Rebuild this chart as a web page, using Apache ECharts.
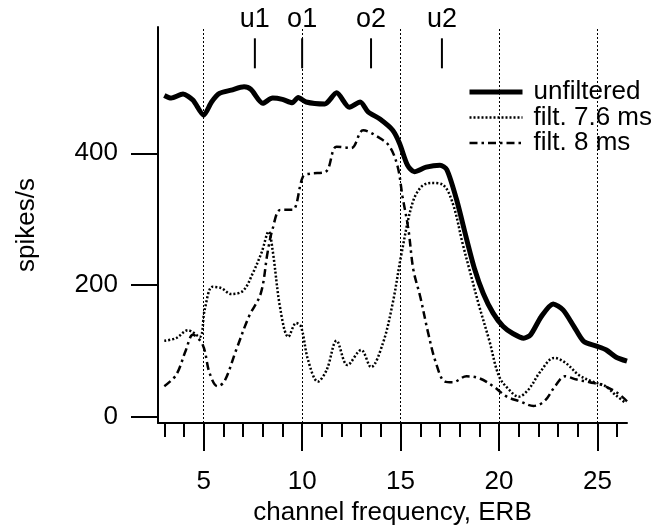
<!DOCTYPE html>
<html>
<head>
<meta charset="utf-8">
<script src="https://cdn.jsdelivr.net/npm/echarts@6/dist/echarts.min.js"></script>
<style>
  html, body { margin: 0; padding: 0; background: #fff; }
  #chart { width: 652px; height: 529px; }
</style>
</head>
<body>
<div id="chart"></div>
<script>
// values
const unfilteredX = [3.0, 3.35, 3.95, 4.45, 5.0, 5.4, 5.8, 6.4, 7.05, 7.4, 8.0, 8.5, 9.0, 9.5, 9.8, 10.2, 11.15, 11.75, 12.4, 12.95, 13.35, 13.95, 14.6, 14.95, 15.35, 15.7, 16.3, 17.0, 17.35, 17.85, 18.35, 18.75, 19.2, 19.7, 20.2, 20.7, 21.25, 21.6, 22.15, 22.75, 23.25, 23.8, 24.3, 24.95, 25.45, 25.95, 26.5];
const unfilteredY = [488, 484, 490, 481, 458, 478, 491, 496, 501, 497, 476, 484, 482, 477, 485, 478, 475, 492, 470, 478, 463, 452, 435, 415, 382, 372, 379, 382, 375, 329, 270, 225, 187, 157, 137, 126, 119, 124, 152, 171, 162, 137, 114, 107, 101, 90, 84];

const filt76X = [3.0, 3.6, 4.2, 4.8, 5.05, 5.45, 5.9, 6.4, 7.0, 7.5, 7.95, 8.3, 8.5, 8.9, 9.3, 9.7, 9.95, 10.3, 10.8, 11.25, 11.75, 12.3, 13.0, 13.5, 14.1, 14.6, 15.05, 15.6, 16.05, 16.55, 17.15, 17.65, 18.15, 18.5, 19.0, 19.5, 20.0, 20.5, 21.0, 21.5, 22.1, 22.8, 23.4, 24.05, 24.75, 25.4, 25.9, 26.45];
const filt76Y = [115, 119, 131, 121, 162, 197, 195, 186, 191, 218, 250, 281, 253, 162, 121, 142, 136, 86, 53, 71, 115, 78, 101, 75, 111, 172, 248, 324, 349, 355, 352, 324, 263, 223, 167, 116, 61, 41, 30, 41, 68, 89, 81, 63, 53, 46, 33, 20];

const filt8X = [3.0, 3.6, 4.1, 4.45, 4.95, 5.3, 5.7, 6.05, 6.65, 7.3, 7.9, 8.25, 8.5, 8.9, 9.5, 10.05, 10.4, 11.2, 11.75, 12.5, 13.1, 13.95, 14.45, 14.85, 15.1, 15.4, 15.65, 16.0, 16.4, 16.8, 17.25, 17.65, 18.35, 19.0, 19.7, 20.4, 21.05, 21.75, 22.3, 22.85, 23.35, 23.95, 24.6, 25.3, 26.0, 26.5];
const filt8Y = [46, 63, 101, 124, 109, 66, 46, 53, 101, 152, 187, 250, 285, 314, 314, 365, 369, 372, 410, 408, 435, 423, 410, 380, 334, 284, 223, 182, 127, 81, 53, 52, 61, 58, 46, 30, 23, 16, 23, 46, 61, 56, 52, 47, 36, 23];

const markerNames = ['u1', 'o1', 'o2', 'u2'];
const markerX = [7.6, 10.0, 13.5, 17.1];

const majorTicks = [5, 10, 15, 20, 25];
const minorTicks = [3, 4, 5, 6, 7, 8, 9, 10, 11, 12, 13, 14, 15, 16, 17, 18, 19, 20, 21, 22, 23, 24, 25, 26];
const yTicks = [0, 200, 400];

const seriesNames = ['unfiltered', 'filt. 7.6 ms', 'filt. 8 ms'];

const zip = (xs, ys) => xs.map((x, i) => [x, ys[i]]);

const FONT = 'Liberation Sans, Arial, sans-serif';
const MARKER_LEVEL = 552;
const gridBox = { left: 158, right: 25, top: 27, bottom: 106, outerBoundsMode: 'none' };

const chart = echarts.init(document.getElementById('chart'));

const option = {
  animation: false,
  backgroundColor: '#fff',
  textStyle: { fontFamily: FONT, color: '#000' },
  grid: [Object.assign({}, gridBox), Object.assign({}, gridBox)],
  xAxis: [
    {
      type: 'value',
      gridIndex: 0,
      min: 2.68,
      max: 26.5,
      position: 'bottom',
      axisLine: { show: true, onZero: false, lineStyle: { color: '#000', width: 2 } },
      axisTick: { show: true, customValues: majorTicks, length: 28, lineStyle: { color: '#000', width: 2 } },
      axisLabel: { show: true, customValues: majorTicks, margin: 46, fontSize: 26, color: '#000', fontFamily: FONT },
      splitLine: { show: false },
      name: 'channel frequency, ERB',
      nameLocation: 'middle',
      nameGap: 69,
      nameTextStyle: { fontSize: 26, color: '#000', fontFamily: FONT }
    },
    {
      type: 'value',
      gridIndex: 1,
      min: 2.68,
      max: 26.5,
      position: 'bottom',
      axisLine: { show: false, onZero: false },
      axisTick: { show: true, customValues: minorTicks, length: 14, lineStyle: { color: '#000', width: 2 } },
      axisLabel: { show: false },
      splitLine: { show: false }
    }
  ],
  yAxis: [
    {
      type: 'value',
      gridIndex: 0,
      min: -10,
      max: 592,
      axisLine: { show: true, onZero: false, lineStyle: { color: '#000', width: 2 } },
      axisTick: { show: true, customValues: yTicks, length: 27, lineStyle: { color: '#000', width: 2 } },
      axisLabel: { show: true, customValues: yTicks, margin: 40, fontSize: 26, color: '#000', fontFamily: FONT },
      splitLine: { show: false },
      name: 'spikes/s',
      nameLocation: 'middle',
      nameRotate: 90,
      nameGap: 118,
      nameTextStyle: { fontSize: 26, color: '#000', fontFamily: FONT }
    },
    { type: 'value', gridIndex: 1, min: 0, max: 1, show: false }
  ],
  legend: {
    data: seriesNames,
    orient: 'vertical',
    left: 467,
    top: 79,
    padding: 0,
    itemWidth: 53,
    itemHeight: 14,
    itemGap: -0.5,
    itemStyle: { opacity: 0 },
    lineStyle: { width: 'inherit' },
    textStyle: { fontSize: 26, lineHeight: 24, color: '#000', fontFamily: FONT, padding: [0, 0, 0, 6] }
  },
  series: [
    {
      name: seriesNames[0],
      type: 'line',
      data: zip(unfilteredX, unfilteredY),
      symbol: 'none',
      smooth: 0.25,
      lineStyle: { color: '#000', width: 5 },
      itemStyle: { color: '#000' },
      z: 4,
      markLine: {
        silent: true,
        symbol: ['none', 'none'],
        label: { show: false },
        lineStyle: { color: '#000', width: 1, type: [2, 2] },
        emphasis: { disabled: true },
        data: majorTicks.map(v => ({ xAxis: v }))
      }
    },
    {
      name: seriesNames[1],
      type: 'line',
      data: zip(filt76X, filt76Y),
      symbol: 'none',
      smooth: 0.35,
      lineStyle: { color: '#000', width: 2.5, type: [2, 2] },
      itemStyle: { color: '#000' },
      z: 3
    },
    {
      name: seriesNames[2],
      type: 'line',
      data: zip(filt8X, filt8Y),
      symbol: 'none',
      smooth: 0.35,
      lineStyle: { color: '#000', width: 2.5, type: [8, 4, 2.5, 4] },
      itemStyle: { color: '#000' },
      z: 3
    },
    {
      name: 'markers',
      type: 'scatter',
      silent: true,
      data: markerX.map((x, i) => ({ value: [x, MARKER_LEVEL], name: markerNames[i] })),
      symbol: 'rect',
      symbolSize: [2, 30],
      itemStyle: { color: '#000', opacity: 1 },
      label: {
        show: true,
        position: 'top',
        distance: 5,
        formatter: p => p.name,
        fontSize: 27,
        color: '#000',
        opacity: 1,
        fontFamily: FONT
      }
    }
  ]
};

chart.setOption(option);
</script>
</body>
</html>
